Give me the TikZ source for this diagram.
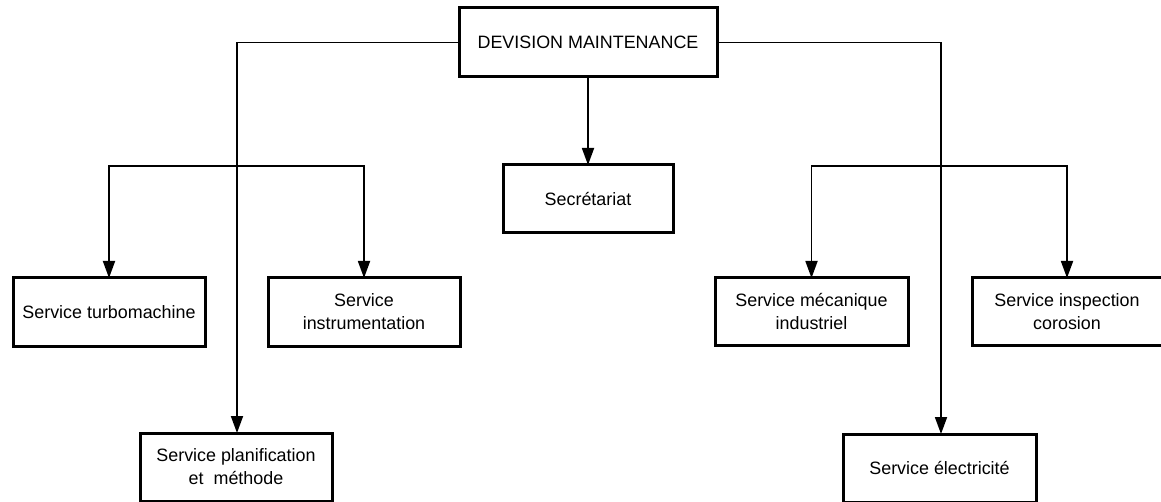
\documentclass[tikz,border=0pt]{standalone}
\usepackage{fontspec}
\setmainfont{Liberation Sans}
\usetikzlibrary{arrows.meta}
\begin{document}
\begin{tikzpicture}[x=1pt,y=-1pt,
  box/.style={draw, line width=3pt, inner sep=0pt, outer sep=0pt, align=center,
    font=\fontsize{17.9}{23}\selectfont},
  conn/.style={line width=1.8pt},
  arr/.style={conn, -{Triangle[length=17pt,width=12pt]}}]
\useasboundingbox (0,0) rectangle (1161,502);
\node[box, minimum width=258pt, minimum height=69pt] (dm) at (588,42.5) {DEVISION MAINTENANCE};
\node[box, minimum width=170pt, minimum height=68pt] (sec) at (588,199) {Secrétariat};
\node[box, minimum width=192pt, minimum height=68pt] (turbo) at (109,312) {Service turbomachine};
\node[box, minimum width=192pt, minimum height=68pt] (instr) at (364,312) {Service\\instrumentation};
\node[box, minimum width=193pt, minimum height=67pt] (mec) at (811.5,311.5) {Service mécanique\\industriel};
\node[box, minimum width=190pt, minimum height=67pt] (insp) at (1067,311.5) {Service inspection\\corosion};
\node[box, minimum width=192pt, minimum height=68pt] (plan) at (236,467) {Service planification\\et~ méthode};
\node[box, minimum width=193pt, minimum height=68pt] (elec) at (939.5,468) {Service électricité};
\coordinate (lj) at (237,42.5);
\coordinate (lb) at (237,166);
\coordinate (rj) at (941,42.5);
\coordinate (rb) at (941,166);
\draw[arr] (dm.west) -- (lj) -- (lj |- plan.north);
\draw[arr] (lb) -| (turbo.north);
\draw[arr] (lb) -| (instr.north);
\draw[arr] (dm.east) -- (rj) -- (rj |- elec.north);
\draw[arr] (rb) -| (mec.north);
\draw[arr] (rb) -| (insp.north);
\draw[arr] (dm.south) -- (sec.north);
\end{tikzpicture}
\end{document}
